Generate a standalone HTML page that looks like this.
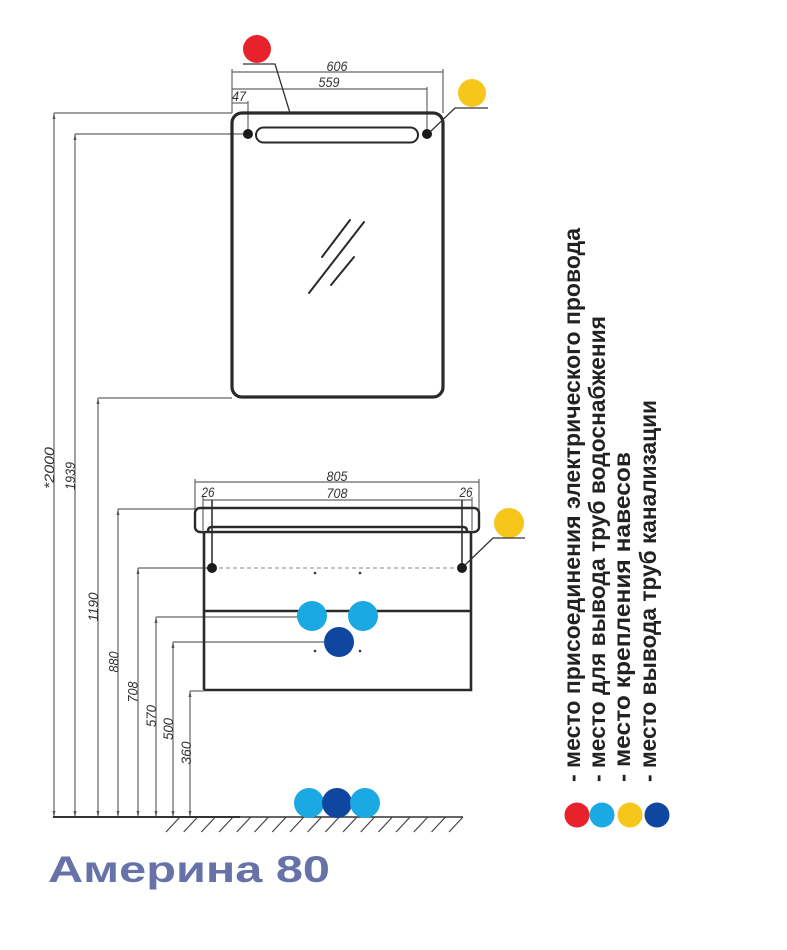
<!DOCTYPE html>
<html><head><meta charset="utf-8"><style>
html,body{margin:0;padding:0;background:#fff;}
svg{display:block;}
</style></head><body>
<svg width="787" height="950" viewBox="0 0 787 950" xmlns="http://www.w3.org/2000/svg">
<rect width="787" height="950" fill="#fff"/>

<!-- vertical dimension lines -->
<g stroke="#666" stroke-width="1.2" fill="none">
  <line x1="54" y1="113" x2="54" y2="817"/>
  <line x1="75" y1="134" x2="75" y2="817"/>
  <line x1="98" y1="398" x2="98" y2="817"/>
  <line x1="118" y1="509" x2="118" y2="817"/>
  <line x1="138" y1="568" x2="138" y2="817"/>
  <line x1="156" y1="617" x2="156" y2="817"/>
  <line x1="173" y1="642" x2="173" y2="817"/>
  <line x1="190" y1="691" x2="190" y2="817"/>
  <!-- horizontal leaders -->
  <line x1="54" y1="113" x2="232" y2="113"/>
  <line x1="75" y1="134" x2="248" y2="134"/>
  <line x1="98" y1="398" x2="232" y2="398"/>
  <line x1="118" y1="509" x2="195" y2="509"/>
  <line x1="138" y1="568" x2="212" y2="568"/>
  <line x1="156" y1="617" x2="300" y2="617"/>
  <line x1="173" y1="642" x2="326" y2="642"/>
  <line x1="190" y1="691" x2="204" y2="691"/>
  <!-- mirror dims -->
  <line x1="232" y1="72" x2="443" y2="72"/>
  <line x1="232" y1="69" x2="232" y2="113"/>
  <line x1="443" y1="69" x2="443" y2="113"/>
  <line x1="232" y1="89" x2="427" y2="89"/>
  <line x1="427" y1="87" x2="427" y2="134"/>
  <line x1="232" y1="103" x2="248" y2="103"/>
  <line x1="248" y1="101" x2="248" y2="134"/>
  <!-- vanity dims -->
  <line x1="195" y1="482" x2="479" y2="482"/>
  <line x1="195" y1="479" x2="195" y2="512"/>
  <line x1="479" y1="479" x2="479" y2="512"/>
  <line x1="203" y1="500" x2="472" y2="500"/>
  <line x1="203" y1="497" x2="203" y2="530"/>
  <line x1="472" y1="497" x2="472" y2="530"/>
</g>
<!-- tiny arrow ticks -->
<g fill="#555">
  <path d="M54 113 l-1.5 6 h3z"/><path d="M75 134 l-1.5 6 h3z"/><path d="M98 398 l-1.5 6 h3z"/>
  <path d="M118 509 l-1.5 6 h3z"/><path d="M138 568 l-1.5 6 h3z"/><path d="M156 617 l-1.5 6 h3z"/>
  <path d="M173 642 l-1.5 6 h3z"/><path d="M190 691 l-1.5 6 h3z"/>
  <path d="M54 817 l-1.5 -6 h3z"/><path d="M75 817 l-1.5 -6 h3z"/><path d="M98 817 l-1.5 -6 h3z"/>
  <path d="M118 817 l-1.5 -6 h3z"/><path d="M138 817 l-1.5 -6 h3z"/><path d="M156 817 l-1.5 -6 h3z"/>
  <path d="M173 817 l-1.5 -6 h3z"/><path d="M190 817 l-1.5 -6 h3z"/>
</g>

<!-- hanger lines -->
<g stroke="#333" stroke-width="1.6">
  <line x1="212" y1="500" x2="212" y2="568"/>
  <line x1="462" y1="500" x2="462" y2="568"/>
</g>

<!-- mirror -->
<rect x="232" y="113" width="211" height="284" rx="10" fill="none" stroke="#2a2a2a" stroke-width="3.2"/>
<rect x="256" y="127.5" width="162" height="15" rx="7.5" fill="none" stroke="#2a2a2a" stroke-width="2"/>
<circle cx="248" cy="134" r="5" fill="#1a1a1a"/>
<circle cx="427" cy="134" r="5" fill="#1a1a1a"/>
<g stroke="#2a2a2a" stroke-width="2" stroke-linecap="round">
  <line x1="322" y1="257" x2="350" y2="220"/>
  <line x1="309" y1="293" x2="364" y2="222"/>
  <line x1="331" y1="285" x2="354" y2="257"/>
</g>

<!-- red marker -->
<circle cx="257" cy="49" r="14" fill="#e8222b"/>
<polyline points="243,64 275,64 290,113" fill="none" stroke="#333" stroke-width="1.3"/>
<!-- yellow marker top -->
<circle cx="472" cy="93" r="14" fill="#f6c61b"/>
<polyline points="488,108 455,108 430,132" fill="none" stroke="#333" stroke-width="1.3"/>

<!-- vanity -->
<rect x="195" y="508" width="284" height="24" rx="5" fill="none" stroke="#2a2a2a" stroke-width="2.4"/>
<path d="M204 690 V532 M471 532 V690 H204" fill="none" stroke="#2a2a2a" stroke-width="2.6"/>
<path d="M208 532 V531 Q208 527 212 527 H463 Q467 527 467 531 V532" fill="none" stroke="#2a2a2a" stroke-width="2.4"/>
<line x1="204" y1="611" x2="471" y2="611" stroke="#2a2a2a" stroke-width="2.6"/>
<line x1="212" y1="568" x2="462" y2="568" stroke="#888" stroke-width="1" stroke-dasharray="4,3"/>
<circle cx="212" cy="568" r="5" fill="#1a1a1a"/>
<circle cx="462" cy="568" r="5" fill="#1a1a1a"/>
<g fill="#333">
  <circle cx="315" cy="573" r="1.3"/><circle cx="360" cy="573" r="1.3"/>
  <circle cx="315" cy="651" r="1.3"/><circle cx="360" cy="651" r="1.3"/>
</g>
<circle cx="312" cy="616" r="15" fill="#1ba9e4"/>
<circle cx="363" cy="616" r="15" fill="#1ba9e4"/>
<circle cx="339" cy="642" r="15" fill="#0f47a0"/>
<!-- yellow marker vanity -->
<circle cx="509" cy="523" r="15" fill="#f6c61b"/>
<polyline points="525,538 493,538 465,565" fill="none" stroke="#333" stroke-width="1.3"/>

<!-- floor -->
<line x1="53" y1="817" x2="463" y2="817" stroke="#333" stroke-width="1.4"/>
<line x1="53" y1="817" x2="240" y2="817" stroke="#333" stroke-width="2"/>
<g stroke="#444" stroke-width="1.2">
  <line x1="180" y1="817" x2="166" y2="832"/><line x1="197.7" y1="817" x2="183.7" y2="832"/>
  <line x1="215.4" y1="817" x2="201.4" y2="832"/><line x1="233.1" y1="817" x2="219.1" y2="832"/>
  <line x1="250.8" y1="817" x2="236.8" y2="832"/><line x1="268.5" y1="817" x2="254.5" y2="832"/>
  <line x1="286.2" y1="817" x2="272.2" y2="832"/><line x1="303.9" y1="817" x2="289.9" y2="832"/>
  <line x1="321.6" y1="817" x2="307.6" y2="832"/><line x1="339.3" y1="817" x2="325.3" y2="832"/>
  <line x1="357" y1="817" x2="343" y2="832"/><line x1="374.7" y1="817" x2="360.7" y2="832"/>
  <line x1="392.4" y1="817" x2="378.4" y2="832"/><line x1="410.1" y1="817" x2="396.1" y2="832"/>
  <line x1="427.8" y1="817" x2="413.8" y2="832"/><line x1="445.5" y1="817" x2="431.5" y2="832"/>
  <line x1="463" y1="817" x2="449" y2="832"/>
</g>
<circle cx="309" cy="803" r="15" fill="#1ba9e4"/>
<circle cx="337" cy="803" r="15" fill="#0f47a0"/>
<circle cx="365" cy="803" r="15" fill="#1ba9e4"/>

<!-- dimension text -->
<g font-family="Liberation Sans, sans-serif" font-style="italic" font-size="14" fill="#333" text-anchor="middle">
  <text x="337" y="71" textLength="21" lengthAdjust="spacingAndGlyphs">606</text>
  <text x="329" y="87" textLength="21" lengthAdjust="spacingAndGlyphs">559</text>
  <text x="239" y="101" textLength="14" lengthAdjust="spacingAndGlyphs">47</text>
  <text x="337" y="481" textLength="21" lengthAdjust="spacingAndGlyphs">805</text>
  <text x="337" y="498" textLength="21" lengthAdjust="spacingAndGlyphs">708</text>
  <text x="208" y="497" textLength="13" lengthAdjust="spacingAndGlyphs">26</text>
  <text x="466" y="497" textLength="13" lengthAdjust="spacingAndGlyphs">26</text>
  <text transform="translate(54,468) rotate(-90)" textLength="42" lengthAdjust="spacingAndGlyphs">*2000</text>
  <text transform="translate(75,476) rotate(-90)" textLength="28" lengthAdjust="spacingAndGlyphs">1939</text>
  <text transform="translate(98,607) rotate(-90)" textLength="29" lengthAdjust="spacingAndGlyphs">1190</text>
  <text transform="translate(118.5,662) rotate(-90)" textLength="21" lengthAdjust="spacingAndGlyphs">880</text>
  <text transform="translate(137.5,692) rotate(-90)" textLength="21" lengthAdjust="spacingAndGlyphs">708</text>
  <text transform="translate(156,716) rotate(-90)" textLength="22" lengthAdjust="spacingAndGlyphs">570</text>
  <text transform="translate(173,729) rotate(-90)" textLength="22" lengthAdjust="spacingAndGlyphs">500</text>
  <text transform="translate(191,753) rotate(-90)" textLength="23" lengthAdjust="spacingAndGlyphs">360</text>
</g>

<!-- legend -->
<g font-family="Liberation Sans, DejaVu Sans, sans-serif" font-weight="bold" font-size="23" fill="#222">
  <text transform="translate(580,782) rotate(-90)" textLength="554" lengthAdjust="spacingAndGlyphs">- место присоединения электрического провода</text>
  <text transform="translate(605,782) rotate(-90)" textLength="466" lengthAdjust="spacingAndGlyphs">- место для вывода труб водоснабжения</text>
  <text transform="translate(630,782) rotate(-90)" textLength="330" lengthAdjust="spacingAndGlyphs">- место крепления навесов</text>
  <text transform="translate(656,782) rotate(-90)" textLength="382" lengthAdjust="spacingAndGlyphs">- место вывода труб канализации</text>
</g>
<circle cx="577" cy="815" r="12.5" fill="#e8222b"/>
<circle cx="602" cy="815" r="12.5" fill="#1ba9e4"/>
<circle cx="630" cy="815" r="12.5" fill="#f6c61b"/>
<circle cx="657" cy="815" r="12.5" fill="#0f47a0"/>

<!-- title -->
<text x="48" y="882" font-family="Liberation Sans, sans-serif" font-weight="bold" font-size="37" fill="#6672a8" textLength="282" lengthAdjust="spacingAndGlyphs">Америна 80</text>
</svg>
</body></html>
